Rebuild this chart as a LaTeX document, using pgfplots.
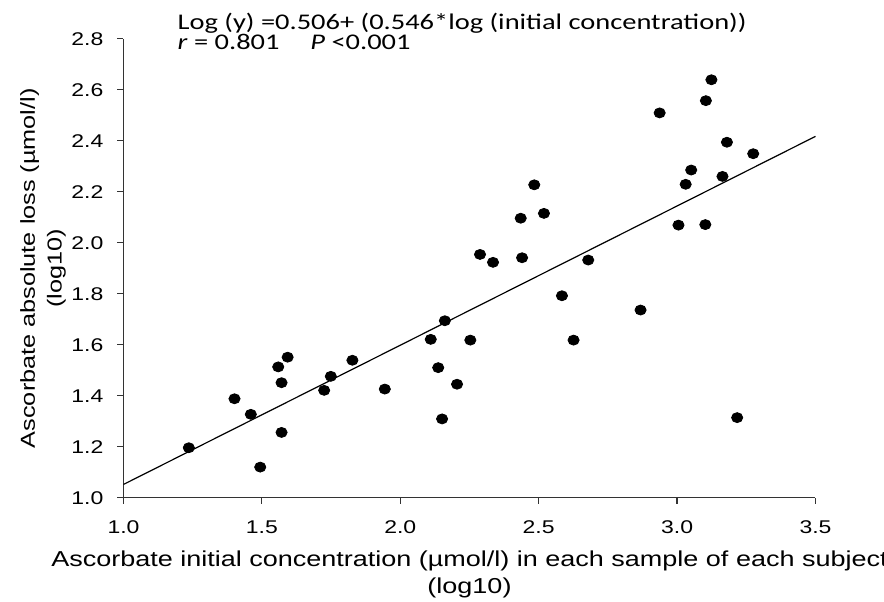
\documentclass[border=0pt]{standalone}
\usepackage{pgfplots}
\pgfplotsset{compat=1.18}
\usepackage{fontspec}
\setmainfont{Liberation Sans}[FakeStretch=1.25]
\newfontfamily\calibri{Carlito}[FakeStretch=1.27]
\begin{document}
\begin{tikzpicture}
\begin{axis}[
  scale only axis,
  width=346pt, height=229.5pt,
  xmin=1, xmax=3.5, ymin=1, ymax=2.8,
  axis lines=left,
  axis line style={-, black!80, line width=0.6pt},
  xtick={1.0,1.5,2.0,2.5,3.0,3.5},
  ytick={1.0,1.2,1.4,1.6,1.8,2.0,2.2,2.4,2.6,2.8},
  tick align=outside,
  major tick length=3pt,
  tick style={black!80, line width=0.6pt},
  /pgf/number format/assume math mode=true,
  /pgf/number format/fixed,
  /pgf/number format/fixed zerofill,
  /pgf/number format/precision=1,
  ticklabel style={font=\fontsize{9.2}{11}\selectfont},
  xticklabel style={yshift=-5pt},
  yticklabel style={xshift=-3.5pt},
  xlabel={Ascorbate initial concentration (µmol/l) in each sample of each subject\\(log10)},
  xlabel style={align=center, font=\fontsize{10.8}{13.4}\selectfont, at={([yshift=-23pt]axis description cs:0.5,0)}, anchor=north},
  ylabel={Ascorbate absolute loss (µmol/l)\\(log10)},
  ylabel style={align=center, font=\fontsize{10.1}{13.4}\selectfont, at={([xshift=-25.3pt]axis description cs:0,0.5)}, anchor=south, rotate=0},
  clip=false,
]
\addplot[only marks, mark=*, mark size=2.5pt, mark options={xscale=1.12}, color=black] coordinates {
(1.236,1.196) (1.401,1.388) (1.460,1.327) (1.494,1.120) (1.559,1.513)
(1.593,1.551) (1.571,1.451) (1.571,1.256) (1.725,1.421) (1.749,1.476)
(1.827,1.539) (1.944,1.426) (2.110,1.621) (2.137,1.510) (2.151,1.309)
(2.161,1.694) (2.205,1.445) (2.253,1.618) (2.288,1.954) (2.335,1.923)
(2.435,2.096) (2.440,1.941) (2.484,2.227) (2.519,2.115) (2.584,1.792)
(2.626,1.618) (2.679,1.932) (2.868,1.736) (3.005,2.069) (3.031,2.229)
(3.051,2.285) (2.937,2.509) (3.124,2.639) (3.104,2.557) (3.180,2.394)
(3.275,2.349) (3.164,2.260) (3.102,2.071) (3.217,1.314)
};
\addplot[black, line width=0.6pt] coordinates {(1.0,1.052) (3.5,2.417)};
\node[anchor=base west, inner sep=0pt, font=\calibri\fontsize{11.2}{13}\selectfont] at ([xshift=26.9pt, yshift=234.2pt]axis cs:1,1) {Log (y) =0.506+ (0.546*log (initial concentration))};
\node[anchor=base west, inner sep=0pt, font=\calibri\fontsize{11.2}{13}\selectfont] at ([xshift=26.9pt, yshift=224.1pt]axis cs:1,1) {\textit{r} = 0.801};
\node[anchor=base west, inner sep=0pt, font=\calibri\fontsize{11.2}{13}\selectfont] at ([xshift=93.25pt, yshift=224.1pt]axis cs:1,1) {\textit{P} <0.001};
\end{axis}
\pgfresetboundingbox
\path[use as bounding box] ([xshift=-61.75pt,yshift=-51.65pt]current axis.south west) rectangle ([xshift=34.25pt,yshift=19.35pt]current axis.north east);
\end{tikzpicture}
\end{document}
